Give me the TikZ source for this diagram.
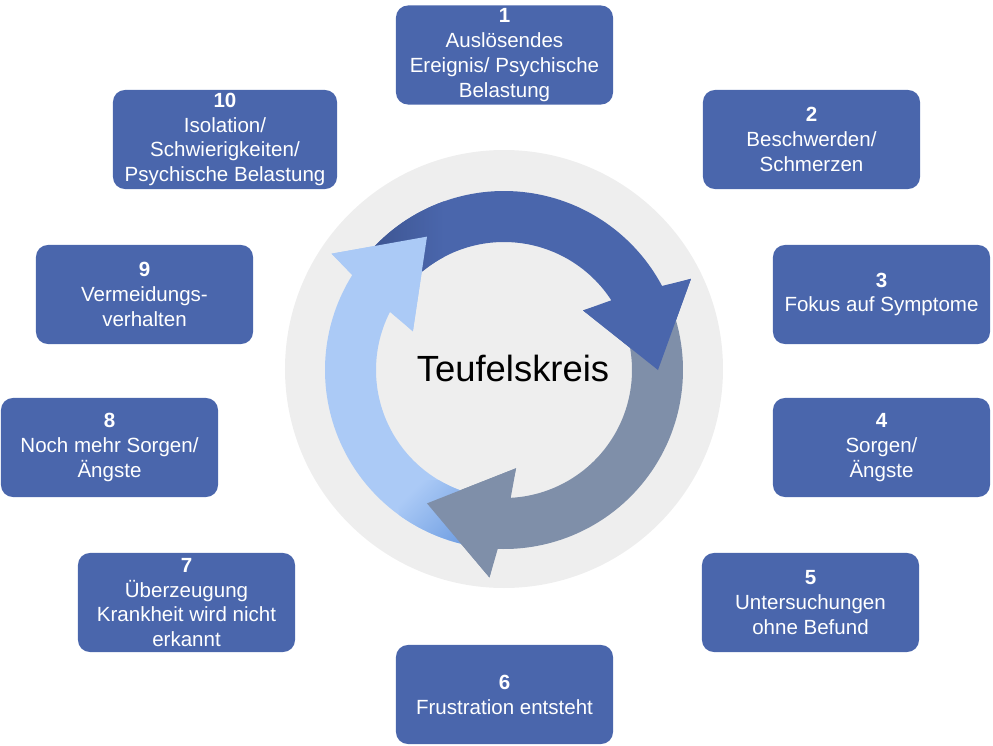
\documentclass[tikz,border=0pt]{standalone}
\usepackage{fontspec}
\setmainfont{Liberation Sans}
\definecolor{boxblue}{HTML}{4A66AC}
\definecolor{ringdark}{HTML}{4A66AC}
\definecolor{ringshade}{HTML}{3D5591}
\definecolor{ringgray}{HTML}{7F8FA9}
\definecolor{ringlight}{HTML}{ABCAF6}
\definecolor{lightshade}{HTML}{6A9AE0}
\definecolor{disc}{HTML}{EEEEEE}
\tikzset{box/.style={fill=boxblue,text=white,rounded corners=0.3cm,align=center,minimum width=5.425cm,minimum height=2.475cm,inner sep=2pt,font=\fontsize{14.6}{17.7}\selectfont,execute at begin node=\rule{0pt}{15pt}},core/.style={font=\fontsize{25.9}{30}\selectfont,anchor=base}}

\begin{document}
\begin{tikzpicture}[x=0.025cm,y=0.025cm]
\useasboundingbox (-504,-375) rectangle (489,370);
% ring in the middle
\fill[disc] (0,1) circle[radius=219];
\foreach \r/\c in {0/ringdark,-120/ringgray,120/ringlight}
  \fill[\c,rotate=\r] (140:179) arc[start angle=140,end angle=28,radius=179] -- (26:208) -- (0:154) -- (37:99) -- (33:128) arc[start angle=33,end angle=140,radius=128] -- cycle;
% shadow at the tails
\begin{scope}
\clip (140:179) arc[start angle=140,end angle=28,radius=179] -- (33:128) arc[start angle=33,end angle=140,radius=128] -- cycle;
\shade[left color=ringshade,right color=ringdark] (-135,100) rectangle (-60,200);
\end{scope}
\begin{scope}
\clip[rotate=120] (140:179) arc[start angle=140,end angle=28,radius=179] -- (33:128) arc[start angle=33,end angle=140,radius=128] -- cycle;
\shade[top color=ringlight,bottom color=lightshade,shading angle=45] (-105,-200) rectangle (-35,-110);
\end{scope}
\foreach \r/\c in {0/ringdark,-120/ringgray,120/ringlight}
  \fill[\c,rotate=\r] (26:208) -- (0:154) -- (37:99) -- cycle;
\node[core] (kreis) at (9,-11) {Teufelskreis};
% the ten steps
\node[box] (n1) at (0.5,315) {\textbf{1}\\Auslösendes\\Ereignis/ Psychische\\Belastung};
\node[box] (n2) at (307.5,230.5) {\textbf{2}\\Beschwerden/\\Schmerzen};
\node[box] (n3) at (377.5,75.5) {\textbf{3}\\Fokus auf Symptome};
\node[box] (n4) at (377.5,-77.5) {\textbf{4}\\Sorgen/\\Ängste};
\node[box] (n5) at (306.5,-232.5) {\textbf{5}\\Untersuchungen\\ohne Befund};
\node[box] (n6) at (0.5,-324.5) {\textbf{6}\\Frustration entsteht};
\node[box] (n7) at (-317.5,-232.5) {\textbf{7}\\Überzeugung\\Krankheit wird nicht\\erkannt};
\node[box] (n8) at (-394.5,-77.5) {\textbf{8}\\Noch mehr Sorgen/\\Ängste};
\node[box] (n9) at (-359.5,75.5) {\textbf{9}\\Vermeidungs-\\verhalten};
\node[box,minimum width=5.6cm] (n10) at (-279,230.5) {\textbf{10}\\Isolation/\\Schwierigkeiten/\\Psychische Belastung};
\end{tikzpicture}
\end{document}
